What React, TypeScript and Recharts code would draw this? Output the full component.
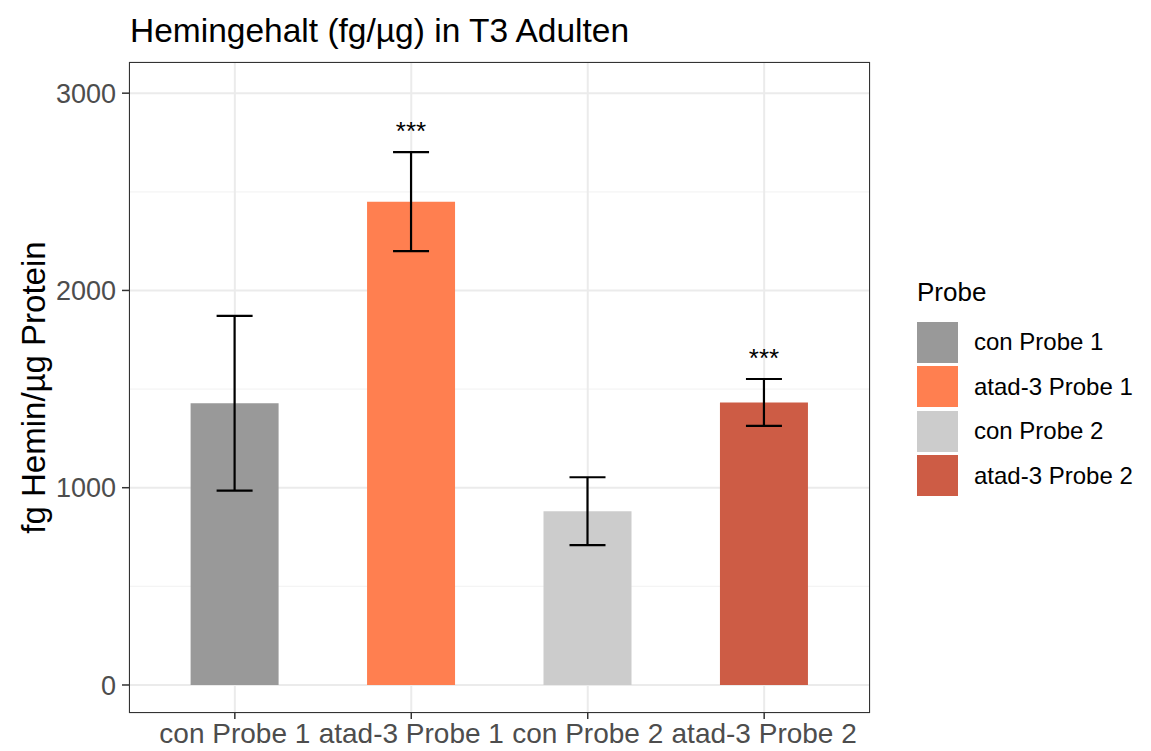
import React from 'react';
import { ComposedChart, Bar, Cell, ErrorBar, LabelList, XAxis, YAxis, CartesianGrid, Label } from 'recharts';

const categories = ['con Probe 1', 'atad-3 Probe 1', 'con Probe 2', 'atad-3 Probe 2'];
const means = [1428, 2450, 881, 1432];
const errors = [443, 251, 172, 119];
const significance = ['', '***', '', '***'];
const colors = ['#999999', '#FF7F50', '#CCCCCC', '#CD5C45'];
const yTicks = [0, 1000, 2000, 3000];
const minorTicks = [500, 1500, 2500];
const yDomain = [-142, 3158];

const data = categories.map((name, i) => ({ name, mean: means[i], err: errors[i], sig: significance[i] }));

const FONT = '"Liberation Sans", Arial, sans-serif';

// plot panel box (ggplot-like)
const W = 1151;
const H = 751;
const PANEL = { left: 129, top: 62, right: 870, bottom: 713 };

const SigLabel = (props: any) => {
  const { x, y, width, height, value, index } = props;
  if (!value) return null;
  const pxPerUnit = height / means[index];
  const whiskerTop = y - errors[index] * pxPerUnit;
  return (
    <text x={x + width / 2} y={whiskerTop - 12} textAnchor="middle" fontSize={26} fontFamily={FONT} fill="#000">
      {value}
    </text>
  );
};

const LegendBox = () => (
  <div style={{ position: 'absolute', left: 917, top: 277, fontFamily: FONT, color: '#000' }}>
    <div style={{ fontSize: 26, lineHeight: '30px', marginBottom: 13 }}>Probe</div>
    {categories.map((c, i) => (
      <div key={c} style={{ display: 'flex', alignItems: 'center', height: 44.5 }}>
        <div style={{ width: 41, height: 41, background: colors[i], marginRight: 16 }} />
        <span style={{ fontSize: 24 }}>{c}</span>
      </div>
    ))}
  </div>
);

const YTitle = () => {
  const cy = (PANEL.top + PANEL.bottom) / 2;
  return (
    <text x={33} y={cy} transform={`rotate(-90 33 ${cy})`} textAnchor="middle" dominantBaseline="central" fontSize={33} fontFamily={FONT} fill="#000">
      fg Hemin/µg Protein
    </text>
  );
};

// minor gridlines at 500/1500/2500, mapped with the same linear domain as the y axis
const minorLines = (p: any) => {
  const off = p && p.offset;
  if (!off) return [];
  const [lo, hi] = yDomain;
  return minorTicks.map((t) => off.top + ((hi - t) / (hi - lo)) * off.height);
};

export default function App() {
  const yAxisWidth = 129;
  return (
    <div style={{ position: 'absolute', left: 0, top: 0, width: W, height: H, background: '#fff', fontFamily: FONT }}>
      <div style={{ position: 'absolute', left: 130, top: 14, fontSize: 33.5, lineHeight: '33.5px', color: '#000', whiteSpace: 'nowrap' }}>
        Hemingehalt (fg/µg) in T3 Adulten
      </div>
      <ComposedChart
        width={W}
        height={H}
        data={data}
        margin={{ top: PANEL.top, right: W - PANEL.right, bottom: 0, left: PANEL.left - yAxisWidth }}
      >
        <CartesianGrid vertical={false} stroke="#F4F4F4" strokeWidth={1.2} horizontalCoordinatesGenerator={minorLines} />
        <CartesianGrid stroke="#EBEBEB" strokeWidth={2} />
        <XAxis
          dataKey="name"
          height={H - PANEL.bottom}
          axisLine={false}
          tickLine={{ stroke: '#333333', strokeWidth: 1.5 }}
          tickSize={6}
          tickMargin={4}
          padding={{ left: 17.6, right: 17.6 }}
          tick={{ fontSize: 28, fill: '#4D4D4D', fontFamily: FONT }}
          interval={0}
        />
        <YAxis
          width={yAxisWidth}
          domain={yDomain}
          ticks={yTicks}
          allowDataOverflow
          axisLine={false}
          tickLine={{ stroke: '#333333', strokeWidth: 1.5 }}
          tickSize={7}
          tickMargin={6}
          tick={{ fontSize: 27, fill: '#4D4D4D', fontFamily: FONT }}
        >
          <Label content={<YTitle />} />
        </YAxis>
        <Bar dataKey="mean" barSize={88} isAnimationActive={false}>
          {data.map((d, i) => (
            <Cell key={d.name} fill={colors[i]} />
          ))}
          <ErrorBar dataKey="err" width={18} strokeWidth={2.2} stroke="#000" direction="y" />
          <LabelList dataKey="sig" content={<SigLabel />} />
        </Bar>
      </ComposedChart>
      <LegendBox />
      <div
        style={{
          position: 'absolute',
          left: PANEL.left,
          top: PANEL.top,
          width: PANEL.right - PANEL.left,
          height: PANEL.bottom - PANEL.top,
          border: '1.5px solid #333333',
          boxSizing: 'border-box',
          pointerEvents: 'none',
        }}
      />
    </div>
  );
}
